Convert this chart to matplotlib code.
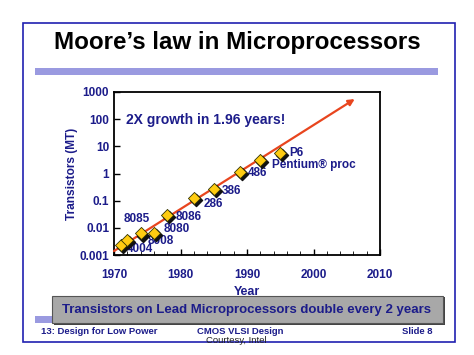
import matplotlib.pyplot as plt
import matplotlib.patches as patches
import matplotlib.transforms as mtransforms
import numpy as np

plt.rcParams['font.family'] = ['Liberation Sans', 'DejaVu Sans']

W, H = 474, 355
NAVY = '#1c1c8a'

# data
years = [1971, 1972, 1974, 1976, 1978, 1982, 1985, 1989, 1992, 1995]
transistors = [0.0024, 0.0035, 0.0062, 0.0066, 0.029, 0.13, 0.28, 1.12, 3.2, 5.5]
labels = ['4004', '8008', '8080', '8085', '8086', '286', '386', '486', 'Pentium® proc', 'P6']
label_x = [1972.0, 1975.1, 1977.4, 1971.4, 1979.3, 1983.5, 1986.2, 1990.2, 1993.8, 1996.3]
label_y = [0.0017, 0.0034, 0.0088, 0.021, 0.026, 0.078, 0.22, 1.0, 2.0, 5.6]
trend_years = [1970, 2006.2]
trend_vals = [0.0014, 550]
xticks = [1970, 1980, 1990, 2000, 2010]
yticks = [0.001, 0.01, 0.1, 1, 10, 100, 1000]
ytick_labels = ['0.001', '0.01', '0.1', '1', '10', '100', '1000']

fig = plt.figure(figsize=(W / 100, H / 100), dpi=100)

def fx(px):
    return px / W

def fy(py):
    return 1 - py / H

# slide frame
fig.patches.append(patches.Rectangle((fx(23), fy(342)), fx(455) - fx(23), fy(23) - fy(342),
                                     transform=fig.transFigure, fill=False, edgecolor='#2020b0', lw=1.2))
fig.text(fx(237), fy(42.5), 'Moore’s law in Microprocessors', ha='center', va='center',
         fontsize=17.4, fontweight='bold', color='black')
# hatched bands
fig.patches.append(patches.Rectangle((fx(35), fy(75)), fx(438) - fx(35), fy(68) - fy(75),
                                     transform=fig.transFigure, facecolor='#9a9ae0', edgecolor='none',
                                     hatch='.....', lw=0))
fig.patches.append(patches.Rectangle((fx(35), fy(323)), fx(52) - fx(35), fy(316) - fy(323),
                                     transform=fig.transFigure, facecolor='#9a9ae0', edgecolor='none',
                                     hatch='.....', lw=0))

ax = fig.add_axes([fx(114), fy(255), fx(380) - fx(114), fy(92) - fy(255)])
ax.set_yscale('log')
ax.set_xlim(1970, 2010)
ax.set_ylim(0.001, 1000)
ax.set_xticks(xticks)
ax.set_xticks(np.arange(1970, 2011, 2), minor=True)
ax.set_yticks(yticks)
ax.set_yticklabels(ytick_labels)
ax.yaxis.set_minor_locator(plt.NullLocator())
ax.tick_params(axis='both', direction='in', labelsize=8.5, labelcolor=NAVY, width=1, length=4)
ax.tick_params(axis='x', which='minor', direction='in', length=3)
for t in ax.get_xticklabels() + ax.get_yticklabels():
    t.set_fontweight('bold')
ax.tick_params(axis='x', pad=10)
for s in ax.spines.values():
    s.set_linewidth(1.3)
ax.set_ylabel('Transistors (MT)', fontsize=8.6, fontweight='bold', color=NAVY, labelpad=1)
ax.set_xlabel('Year', fontsize=9, fontweight='bold', color=NAVY, labelpad=4)

ax.annotate('', xy=(trend_years[1], trend_vals[1]), xytext=(trend_years[0], trend_vals[0]),
            arrowprops=dict(arrowstyle='-|>', color='#e8451e', lw=1.6, mutation_scale=9,
                            shrinkA=0, shrinkB=0))

shadow = mtransforms.offset_copy(ax.transData, fig=fig, x=1.5, y=-1.5, units='points')
ax.scatter(years, transistors, marker='D', s=38, color='#111111', transform=shadow, zorder=4)
ax.scatter(years, transistors, marker='D', s=38, facecolor='#ffcc11', edgecolor='#333300',
           lw=0.6, zorder=5)
for lx, ly, lab in zip(label_x, label_y, labels):
    ax.text(lx, ly, lab, fontsize=8.5, fontweight='bold', color=NAVY, va='center', ha='left')
ax.text(1971.8, 95, '2X growth in 1.96 years!', fontsize=10, fontweight='bold', color=NAVY,
        va='center', ha='left')

# bottom banner with shadow
fig.patches.append(patches.Rectangle((fx(54), fy(325)), fx(445) - fx(54), fy(297) - fy(325),
                                     transform=fig.transFigure, facecolor='#444444', edgecolor='none'))
fig.patches.append(patches.Rectangle((fx(52), fy(323)), fx(443) - fx(52), fy(296) - fy(323),
                                     transform=fig.transFigure, facecolor='#a8a8a8', edgecolor='#555555',
                                     lw=0.8))
fig.text(fx(247), fy(310), 'Transistors on Lead Microprocessors double every 2 years', ha='center',
         va='center', fontsize=9.5, fontweight='bold', color=NAVY)

fig.text(fx(41), fy(331.5), '13: Design for Low Power', ha='left', va='center', fontsize=6.8,
         fontweight='bold', color=NAVY)
fig.text(fx(240), fy(331), 'CMOS VLSI Design', ha='center', va='center', fontsize=6.8,
         fontweight='bold', color=NAVY)
fig.text(fx(433), fy(331.5), 'Slide 8', ha='right', va='center', fontsize=6.8,
         fontweight='bold', color=NAVY)
fig.text(fx(236), fy(340.5), 'Courtesy, Intel', ha='center', va='center', fontsize=6.8,
         color='#222222')

fig.savefig('out.png', dpi=100)
